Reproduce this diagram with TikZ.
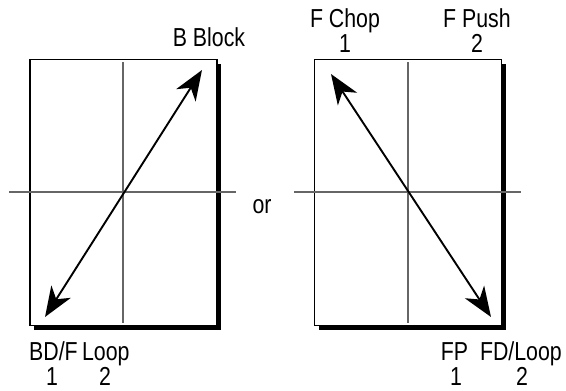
\documentclass[tikz,border=0pt]{standalone}
\usepackage{fontspec}
\setmainfont{Liberation Sans}[FakeStretch=0.82]
\usetikzlibrary{arrows.meta,shadows}
\begin{document}
\begin{tikzpicture}[x=1pt,y=-1pt,
  panel/.style={draw=black,line width=1.5pt,fill=white,minimum width=187pt,minimum height=266pt,inner sep=0pt,
    drop shadow={shadow xshift=4pt,shadow yshift=-4pt,fill=black,opacity=1}},
  axis/.style={draw=black!60,line width=1.6pt},
  vec/.style={line width=1.9pt,{Stealth[length=30pt,width=23pt,inset=9pt]}-{Stealth[length=30pt,width=23pt,inset=9pt]}},
  lbl/.style={font=\fontsize{26}{26}\selectfont,inner sep=0pt,anchor=base}]
\useasboundingbox (0,0) rectangle (566,391);
% panels
\node[panel] (L) at (123.5,192.5) {};
\node[panel] (R) at (408,192.5) {};
% axes
\coordinate (Lvt) at (123,62); \coordinate (Lvb) at (123,323);
\coordinate (Lhl) at (9,192); \coordinate (Lhr) at (236,192);
\coordinate (Rvt) at (408,62); \coordinate (Rvb) at (408,323);
\coordinate (Rhl) at (294,192); \coordinate (Rhr) at (521,192);
\draw[axis] (Lvt) -- (Lvb);
\draw[axis] (Lhl) -- (Lhr);
\draw[axis] (Rvt) -- (Rvb);
\draw[axis] (Rhl) -- (Rhr);
% arrows
\coordinate (La) at (45,317); \coordinate (Lb) at (202,70);
\coordinate (Ra) at (331,74); \coordinate (Rb) at (491,317);
\draw[vec] (La) -- (Lb);
\draw[vec] (Ra) -- (Rb);
% labels
\node[lbl] (bblock) at (209,46) {B Block};
\node[lbl] (fchop) at (345,27) {F Chop};
\node[lbl] (fchop1) at (345,52) {1};
\node[lbl] (fpush) at (477,27) {F Push};
\node[lbl] (fpush2) at (477,52) {2};
\node[lbl] (or) at (262,213) {or};
\node[lbl,anchor=base west] (bdf) at (29,360) {BD/F\,Loop};
\node[lbl] (bdf1) at (52,385) {1};
\node[lbl] (bdf2) at (105,385) {2};
\node[lbl,anchor=base east] (fpfd) at (562,360) {FP\ \ FD/Loop};
\node[lbl] (fp1) at (456,385) {1};
\node[lbl] (fd2) at (522,385) {2};
\end{tikzpicture}
\end{document}
